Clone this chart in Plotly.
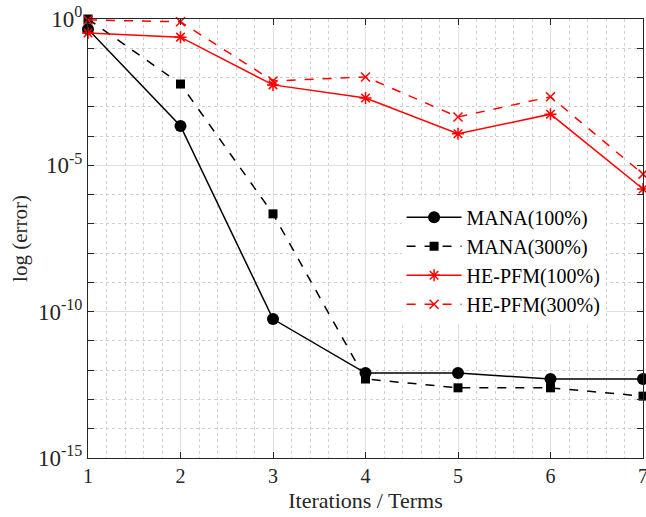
import plotly.graph_objects as go

iterations = [1, 2, 3, 4, 5, 6, 7]
mana_100 = [0.45, 2.2e-4, 5.6e-11, 8.0e-13, 8.0e-13, 5.0e-13, 5.0e-13]
mana_300 = [1.0, 6.0e-3, 2.2e-7, 5.0e-13, 2.5e-13, 2.5e-13, 1.3e-13]
hepfm_100 = [0.33, 0.24, 5.6e-3, 2.0e-3, 1.2e-4, 5.6e-4, 1.55e-6]
hepfm_300 = [0.93, 0.80, 7.6e-3, 1.05e-2, 4.5e-4, 2.2e-3, 5.0e-6]

y_tickvals = [1e0, 1e-5, 1e-10, 1e-15]
y_ticktext = ["10<sup>0</sup>", "10<sup>-5</sup>", "10<sup>-10</sup>", "10<sup>-15</sup>"]

font = "Liberation Serif"

fig = go.Figure()
fig.add_trace(go.Scatter(x=iterations, y=mana_100, name="MANA(100%)", mode="lines+markers",
                         line=dict(color="black", width=1.5),
                         marker=dict(symbol="circle", size=12, color="black"), cliponaxis=False))
fig.add_trace(go.Scatter(x=iterations, y=mana_300, name="MANA(300%)", mode="lines+markers",
                         line=dict(color="black", width=1.5, dash="dash"),
                         marker=dict(symbol="square", size=9, color="black"), cliponaxis=False))
fig.add_trace(go.Scatter(x=iterations, y=hepfm_100, name="HE-PFM(100%)", mode="lines+markers",
                         line=dict(color="#ff0000", width=1.5),
                         marker=dict(symbol="asterisk-open", size=10, color="#ff0000",
                                     line=dict(color="#ff0000", width=1.5)), cliponaxis=False))
fig.add_trace(go.Scatter(x=iterations, y=hepfm_300, name="HE-PFM(300%)", mode="lines+markers",
                         line=dict(color="#ff0000", width=1.5, dash="dash"),
                         marker=dict(symbol="x-thin-open", size=9, color="#ff0000",
                                     line=dict(color="#ff0000", width=1.5)), cliponaxis=False))

fig.update_layout(
    width=646, height=517,
    margin=dict(l=88, r=3, t=19, b=59, autoexpand=False),
    paper_bgcolor="white", plot_bgcolor="white",
    font=dict(family=font, size=20, color="#262626"),
    showlegend=True,
    legend=dict(x=0.565, y=0.593, xanchor="left", yanchor="top",
                bgcolor="white", borderwidth=0, font=dict(family=font, size=20, color="black"),
                tracegroupgap=0, itemwidth=55),
)
fig.update_xaxes(
    range=[1, 7], tickvals=iterations, ticks="inside", ticklen=6, tickcolor="#262626",
    showline=True, linecolor="#262626", linewidth=1, mirror="ticks",
    showgrid=True, gridcolor="#e0e0e0", gridwidth=1, zeroline=False,
    minor=dict(dtick=0.2, showgrid=True, gridcolor="#d0d0d0", griddash="dot", ticks=""),
    title=dict(text="Iterations / Terms", font=dict(family=font, size=22), standoff=6),
    tickfont=dict(family=font, size=20), ticklabeloverflow="allow",
)
fig.update_yaxes(
    type="log", range=[-15, 0], tickvals=y_tickvals, ticktext=y_ticktext,
    ticks="inside", ticklen=6, tickcolor="#262626",
    showline=True, linecolor="#262626", linewidth=1, mirror="ticks",
    showgrid=True, gridcolor="#e0e0e0", gridwidth=1, zeroline=False,
    minor=dict(tickvals=[10.0 ** (-k) for k in range(1, 15)], showgrid=True,
               gridcolor="#d0d0d0", griddash="dot", ticks="inside", ticklen=6, tickcolor="#262626"),
    title=dict(text="log (error)", font=dict(family=font, size=21), standoff=4),
    tickfont=dict(family=font, size=23), ticklabeloverflow="allow",
)

fig.write_html("out.html", config={"displayModeBar": False},
               post_script="document.body.style.margin='0';")
